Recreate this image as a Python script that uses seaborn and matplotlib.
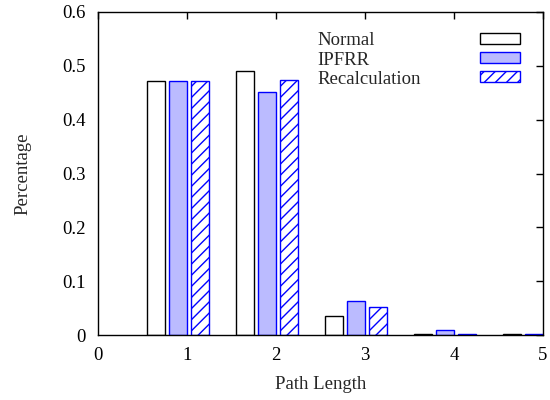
import numpy as np
import matplotlib
matplotlib.use("Agg")
import matplotlib.pyplot as plt
import matplotlib.ticker as mticker
import seaborn as sns

# --- Data ---
path_length = [1, 2, 3, 4, 5]
normal = [0.472, 0.490, 0.035, 0.001, 0.001]
ipfrr = [0.472, 0.451, 0.063, 0.009, 0.001]
recalc = [0.472, 0.474, 0.052, 0.001, 0.001]
series_names = ["Normal", "IPFRR", "Recalculation"]
x_ticks = [0, 1, 2, 3, 4, 5]
y_ticks = [0, 0.1, 0.2, 0.3, 0.4, 0.5, 0.6]

# --- Style ---
FS = 13.5
sns.set_style("white")
plt.rcParams["font.family"] = ["Liberation Serif", "DejaVu Serif"]
plt.rcParams["font.size"] = FS
plt.rcParams["hatch.linewidth"] = 1.0
plt.rcParams["hatch.color"] = "#0000ff"

BLUE = "#0000ff"
LIGHT = "#bbbbff"

fig = plt.figure(figsize=(5.5, 4), dpi=100)
ax = fig.add_axes([0.178, 0.1625, 0.809, 0.8075])

# bar offsets in gnuplot-like clustered layout
styles = [
    dict(offset=-0.35, color="white", edgecolor="black", hatch=None),
    dict(offset=-0.10, color=LIGHT, edgecolor=BLUE, hatch=None),
    dict(offset=0.15, color="white", edgecolor=BLUE, hatch="///"),
]
for vals, st in zip([normal, ipfrr, recalc], styles):
    pos = np.array(path_length) + st["offset"]
    sns.barplot(x=pos, y=vals, native_scale=True, width=0.2, saturation=1,
                color=st["color"], edgecolor=st["edgecolor"], linewidth=1.0,
                hatch=st["hatch"], errorbar=None, legend=False, ax=ax)

ax.set_xlim(0, 5)
ax.set_ylim(0, 0.6)
ax.xaxis.set_major_locator(mticker.FixedLocator(x_ticks))
ax.yaxis.set_major_locator(mticker.FixedLocator(y_ticks))
ax.xaxis.set_major_formatter(mticker.FuncFormatter(lambda v, p: f"{v:g}"))
ax.yaxis.set_major_formatter(mticker.FuncFormatter(lambda v, p: f"{v:g}"))
ax.tick_params(direction="in", top=True, right=True, length=5, width=1,
               colors="black", labelsize=FS, pad=9)
for sp in ax.spines.values():
    sp.set_visible(True)
    sp.set_color("black")
    sp.set_linewidth(1.0)

ax.set_xlabel("Path Length", fontsize=FS, labelpad=8)
ax.set_ylabel("Percentage", fontsize=FS, labelpad=22)

# legend: left-aligned labels, handles on the right
handles = list(ax.containers)
leg_kw = dict(loc="upper left", frameon=False, labelspacing=0.11,
              borderaxespad=0, borderpad=0, fontsize=FS)
leg_text = ax.legend(handles, series_names, bbox_to_anchor=(0.494, 0.937),
                     handlelength=0, handletextpad=0, **leg_kw)
for h in leg_text.legend_handles:
    h.set_visible(False)
ax.add_artist(leg_text)
ax.legend(handles, ["", "", ""], bbox_to_anchor=(0.858, 0.937),
          markerfirst=False, handlelength=2.13, handleheight=0.53,
          handletextpad=0, **leg_kw)

fig.savefig("out.png", dpi=100)
